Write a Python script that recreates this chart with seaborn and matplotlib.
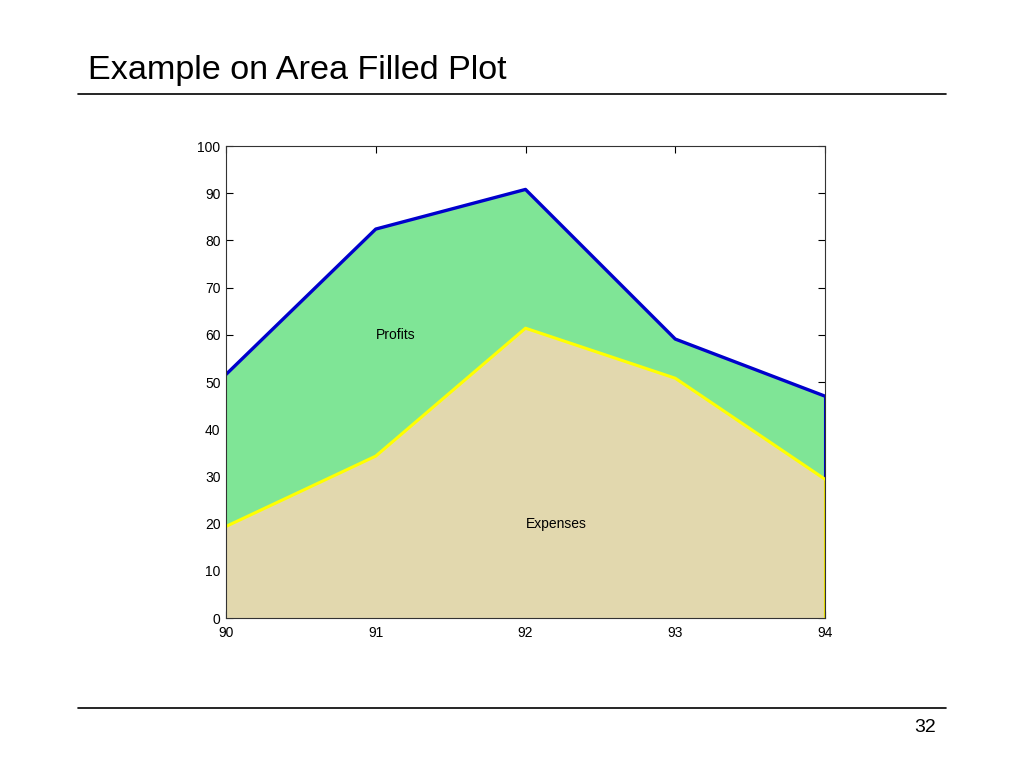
import numpy as np
import pandas as pd
import seaborn as sns
import matplotlib.pyplot as plt
from matplotlib.lines import Line2D

# data
years = [90, 91, 92, 93, 94]
sales = [51.6, 82.4, 90.8, 59.1, 47.0]
expenses = [19.4, 34.3, 61.4, 50.8, 29.4]
y_ticks = [0, 10, 20, 30, 40, 50, 60, 70, 80, 90, 100]

sns.set_style("white")
plt.rcParams['font.family'] = ['Liberation Sans', 'DejaVu Sans']
plt.rcParams['text.color'] = 'black'
plt.rcParams['xtick.color'] = 'black'
plt.rcParams['ytick.color'] = 'black'

df = pd.DataFrame({'year': years, 'sales': sales, 'expenses': expenses})

fig = plt.figure(figsize=(10.24, 7.68), dpi=100)

# slide title and rules
fig.text(88 / 1024, 1 - 71 / 768, 'Example on Area Filled Plot',
         fontsize=24.6, va='center', ha='left', color='black')
fig.add_artist(Line2D([78 / 1024, 946 / 1024], [1 - 94 / 768, 1 - 94 / 768],
                      color='black', lw=1.2))
fig.add_artist(Line2D([78 / 1024, 946 / 1024], [1 - 708 / 768, 1 - 708 / 768],
                      color='black', lw=1.2))
fig.text(936 / 1024, 1 - 727 / 768, '32', fontsize=14, ha='right', va='center',
         color='black')

ax = fig.add_axes([226 / 1024, 1 - 618 / 768, 599 / 1024, 472 / 768])

# filled areas
ax.fill_between(df['year'], df['expenses'], df['sales'], color='#7fe596', lw=0)
ax.fill_between(df['year'], 0, df['expenses'], color='#e2d8ae', lw=0)
ax.vlines([94], 0, df['expenses'].iloc[-1], color='#e8e000', lw=1.5)
ax.vlines([94], df['expenses'].iloc[-1], df['sales'].iloc[-1], color='#0000cc', lw=1.5)

# edges
sns.lineplot(data=df, x='year', y='sales', ax=ax, color='#0000cc', lw=2.4)
sns.lineplot(data=df, x='year', y='expenses', ax=ax, color='#ffff00', lw=2.2)

ax.text(91, 60, 'Profits', fontsize=10, va='center', ha='left', color='black')
ax.text(92, 20, 'Expenses', fontsize=10, va='center', ha='left', color='black')

ax.set_xlim(90, 94)
ax.set_ylim(0, 100)
ax.set_xticks(years)
ax.set_yticks(y_ticks)
ax.set_xlabel('')
ax.set_ylabel('')
ax.tick_params(direction='in', length=5, width=0.8, labelsize=10,
               top=True, right=True, bottom=True, left=True)
ax.tick_params(axis='x', pad=6)
ax.tick_params(axis='y', pad=4)
for s in ax.spines.values():
    s.set_color('#333333')
    s.set_linewidth(0.8)

fig.savefig('out.png', dpi=100)
